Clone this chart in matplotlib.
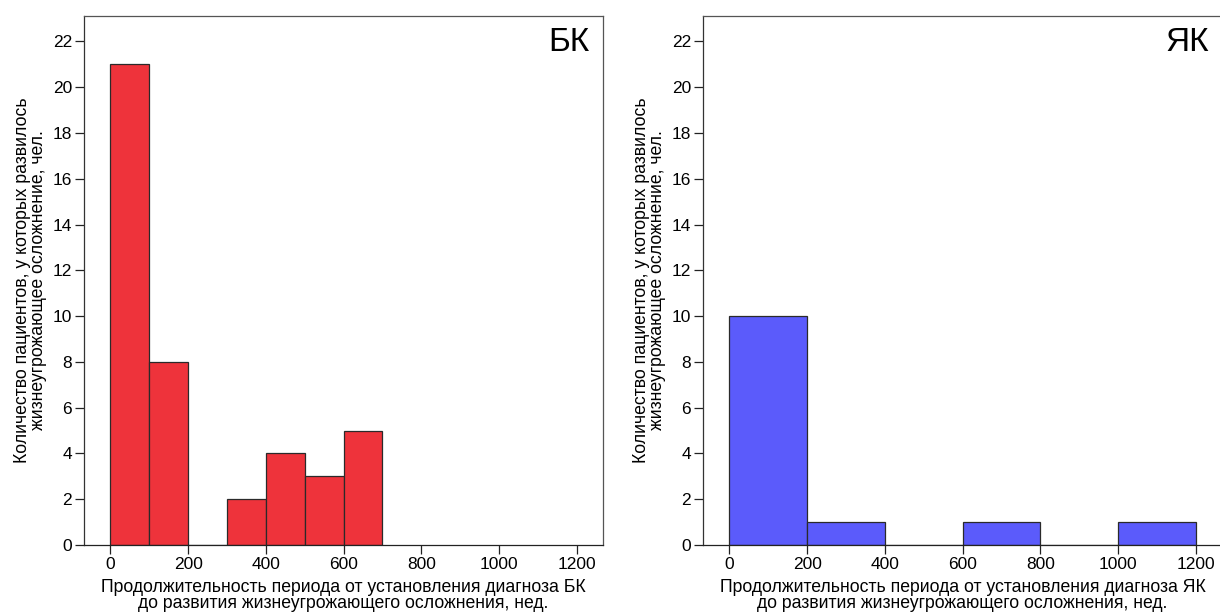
import numpy as np
import matplotlib
matplotlib.use("Agg")
import matplotlib.pyplot as plt

plt.rcParams['font.family'] = ['Liberation Sans', 'DejaVu Sans']

# Data
bk_edges = [0, 100, 200, 300, 400, 500, 600, 700]
bk_counts = [21, 8, 0, 2, 4, 3, 5]
yk_edges = [0, 200, 400, 600, 800, 1000, 1200]
yk_counts = [10, 1, 0, 1, 0, 1]
x_ticks = [0, 200, 400, 600, 800, 1000, 1200]
y_ticks = [0, 2, 4, 6, 8, 10, 12, 14, 16, 18, 20, 22]
ylabel = "Количество пациентов, у которых развилось\nжизнеугрожающее осложнение, чел."
xlabel_bk = "Продолжительность периода от установления диагноза БК\nдо развития жизнеугрожающего осложнения, нед."
xlabel_yk = "Продолжительность периода от установления диагноза ЯК\nдо развития жизнеугрожающего осложнения, нед."

fig = plt.figure(figsize=(12.2, 6.14), dpi=100)
ax1 = fig.add_axes([84/1220, 1-545/614, 519/1220, 529.2/614])
ax2 = fig.add_axes([703/1220, 1-545/614, 519/1220, 529.2/614])

panels = [
    (ax1, bk_edges, bk_counts, '#EE333B', 'БК', xlabel_bk),
    (ax2, yk_edges, yk_counts, '#5B5BFB', 'ЯК', xlabel_yk),
]
for ax, edges, counts, color, tag, xl in panels:
    e = np.array(edges, dtype=float)
    ax.bar(e[:-1], counts, width=np.diff(e), align='edge', color=color,
           edgecolor='#2a2a2a', linewidth=0.9, zorder=2)
    ax.set_xlim(-68, 1268)
    ax.set_ylim(0, 23.12)
    ax.set_xticks(x_ticks)
    ax.set_yticks(y_ticks)
    ax.tick_params(axis='both', direction='out', length=6.5, width=0.9,
                   labelsize=12.5, color='#222222', pad=2)
    ax.tick_params(top=False, right=False)
    for s in ax.spines.values():
        s.set_color('#555555')
        s.set_linewidth(0.9)
    ax.spines['bottom'].set_color('#222222')
    ax.spines['left'].set_color('#333333')
    ax.set_xlabel(xl, fontsize=12.7, linespacing=0.95, labelpad=5)
    ax.set_ylabel(ylabel, fontsize=12.7, linespacing=0.98, labelpad=4)
    ax.text(0.974, 0.978, tag, transform=ax.transAxes, ha='right', va='top',
            fontsize=24)

fig.savefig('out.png', dpi=100)
